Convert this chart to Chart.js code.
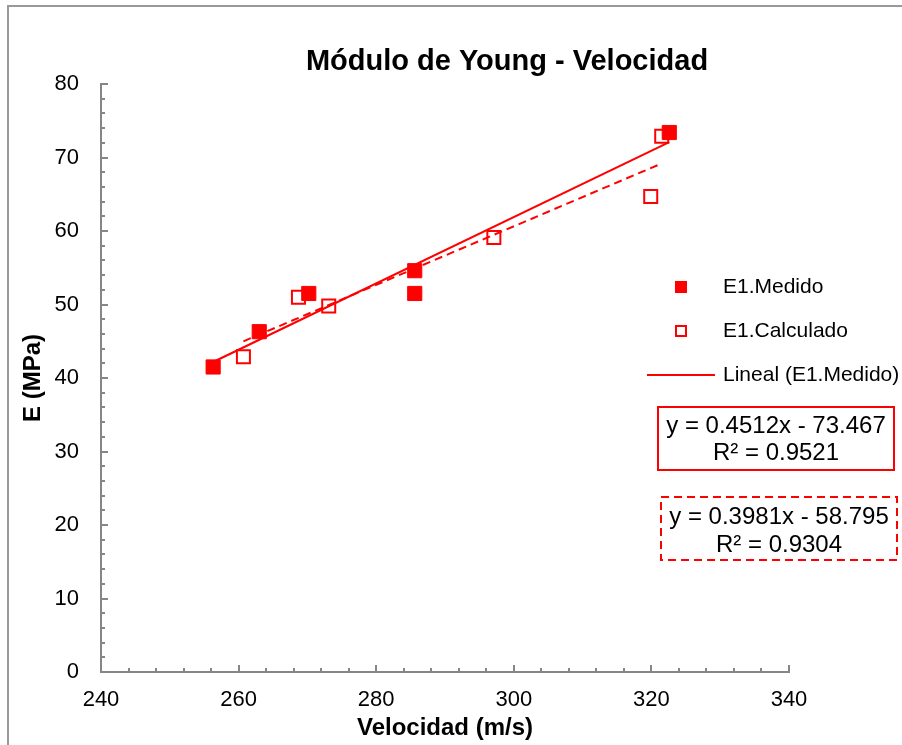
<!DOCTYPE html>
<html>
<head>
<meta charset="utf-8">
<script src="https://cdn.jsdelivr.net/npm/chart.js@4.4.1/dist/chart.umd.min.js"></script>
<style>
  html, body { margin: 0; padding: 0; background: #fff; }
  #wrap { width: 902px; height: 745px; position: relative; }
</style>
</head>
<body>
<div id="wrap"><canvas id="chart" width="902" height="745"></canvas></div>
<script>
// data
const velMedido = [256.3, 263.0, 270.2, 285.6, 285.6, 322.6];
const eMedido = [41.5, 46.3, 51.5, 54.6, 51.5, 73.4];
const velCalculado = [260.7, 268.7, 273.1, 297.1, 319.9, 321.5];
const eCalculado = [42.9, 51.0, 49.8, 59.1, 64.7, 72.9];

// trendline coefficients as printed on the chart
const fitMedido = { m: 0.4512, b: -73.467, r2: 0.9521 };
const fitCalculado = { m: 0.3981, b: -58.795, r2: 0.9304 };

const xTicks = [240, 260, 280, 300, 320, 340];
const yTicks = [0, 10, 20, 30, 40, 50, 60, 70, 80];
const xMinorStep = 4;
const yMinorStep = 2;

const titleText = 'Módulo de Young - Velocidad';
const xTitle = 'Velocidad (m/s)';
const yTitle = 'E (MPa)';
const legendLabels = ['E1.Medido', 'E1.Calculado', 'Lineal (E1.Medido)'];

const FONT = '"Liberation Sans", Arial, sans-serif';
const RED = '#ff0000';
const GRAY = '#868686';

const toPoints = (xs, ys) => xs.map((v, i) => ({ x: v, y: ys[i] }));
const trend = (xs, fit) => {
  const lo = Math.min(...xs), hi = Math.max(...xs);
  return [{ x: lo, y: fit.m * lo + fit.b }, { x: hi, y: fit.m * hi + fit.b }];
};
const eqText = fit => 'y = ' + fit.m + 'x ' + (fit.b < 0 ? '- ' : '+ ') + Math.abs(fit.b);
const r2Text = fit => 'R² = ' + fit.r2;

// title, border, minor ticks, legend and equation boxes
const decorations = {
  id: 'decorations',
  afterDraw(chart) {
    const { ctx, chartArea: { left, bottom }, scales: { x, y } } = chart;
    ctx.save();

    // outer chart border
    ctx.strokeStyle = '#999999';
    ctx.lineWidth = 2;
    ctx.strokeRect(8, 6, 1200, 1200);

    // title
    ctx.fillStyle = '#000';
    ctx.font = 'bold 29px ' + FONT;
    ctx.textAlign = 'center';
    ctx.textBaseline = 'middle';
    ctx.fillText(titleText, 507, 62);

    // tick marks, pointing into the plot
    ctx.strokeStyle = GRAY;
    ctx.lineWidth = 2;
    for (let v = x.min; v <= x.max; v += xMinorStep) {
      const px = Math.round(x.getPixelForValue(v));
      const len = xTicks.includes(v) ? 7 : 4;
      ctx.beginPath();
      ctx.moveTo(px, bottom);
      ctx.lineTo(px, bottom - len);
      ctx.stroke();
    }
    for (let v = y.min; v <= y.max; v += yMinorStep) {
      const py = Math.round(y.getPixelForValue(v));
      const len = yTicks.includes(v) ? 7 : 4;
      ctx.beginPath();
      ctx.moveTo(left, py);
      ctx.lineTo(left + len, py);
      ctx.stroke();
    }

    // legend
    ctx.font = '21px ' + FONT;
    ctx.textAlign = 'left';
    ctx.fillStyle = RED;
    ctx.fillRect(675, 281, 12, 12);
    ctx.strokeStyle = RED;
    ctx.lineWidth = 2;
    ctx.strokeRect(676, 326, 10, 10);
    ctx.beginPath();
    ctx.moveTo(647, 375);
    ctx.lineTo(715, 375);
    ctx.stroke();
    ctx.fillStyle = '#000';
    ctx.fillText(legendLabels[0], 723, 287);
    ctx.fillText(legendLabels[1], 723, 331);
    ctx.fillText(legendLabels[2], 723, 375);

    // equation boxes
    ctx.strokeStyle = RED;
    ctx.lineWidth = 2;
    ctx.strokeRect(658, 407, 236, 63);
    ctx.setLineDash([8, 5]);
    ctx.strokeRect(661, 497, 236, 63);
    ctx.setLineDash([]);
    ctx.font = '24px ' + FONT;
    ctx.textAlign = 'center';
    ctx.fillText(eqText(fitMedido), 776, 426);
    ctx.fillText(r2Text(fitMedido), 776, 453);
    ctx.fillText(eqText(fitCalculado), 779, 517);
    ctx.fillText(r2Text(fitCalculado), 779, 545);

    ctx.restore();
  }
};

new Chart(document.getElementById('chart'), {
  type: 'scatter',
  data: {
    datasets: [
      {
        label: legendLabels[0],
        data: toPoints(velMedido, eMedido),
        pointStyle: 'rect',
        pointRadius: 10,
        backgroundColor: RED,
        borderColor: RED,
        borderWidth: 1
      },
      {
        label: legendLabels[1],
        data: toPoints(velCalculado, eCalculado),
        pointStyle: 'rect',
        pointRadius: 9.2,
        backgroundColor: 'transparent',
        borderColor: RED,
        borderWidth: 2
      },
      {
        label: legendLabels[2],
        type: 'line',
        data: trend(velMedido, fitMedido),
        borderColor: RED,
        borderWidth: 2,
        pointRadius: 0,
        fill: false
      },
      {
        label: 'Lineal (E1.Calculado)',
        type: 'line',
        data: trend(velCalculado, fitCalculado),
        borderColor: RED,
        borderWidth: 2,
        borderDash: [8, 5],
        pointRadius: 0,
        fill: false
      }
    ]
  },
  options: {
    responsive: false,
    animation: false,
    devicePixelRatio: 1,
    layout: { padding: { top: 84, right: 113, left: 0, bottom: 0 } },
    plugins: {
      legend: { display: false },
      title: { display: false },
      tooltip: { enabled: false }
    },
    scales: {
      x: {
        type: 'linear',
        min: 240,
        max: 340,
        afterFit: s => { s.height = 73; },
        afterBuildTicks: s => { s.ticks = xTicks.map(v => ({ value: v })); },
        grid: { display: false },
        border: { display: true, color: GRAY, width: 2 },
        ticks: {
          color: '#000',
          font: { family: FONT, size: 22 },
          padding: 7,
          maxRotation: 0
        },
        title: {
          display: true,
          text: xTitle,
          color: '#000',
          font: { family: FONT, size: 24, weight: 'bold', lineHeight: 1.2 },
          padding: { top: 0, bottom: 2 }
        }
      },
      y: {
        type: 'linear',
        min: 0,
        max: 80,
        afterFit: s => { s.width = 101; },
        afterBuildTicks: s => { s.ticks = yTicks.map(v => ({ value: v })); },
        grid: { display: false },
        border: { display: true, color: GRAY, width: 2 },
        ticks: {
          color: '#000',
          font: { family: FONT, size: 22 },
          padding: 14
        },
        title: {
          display: true,
          text: yTitle,
          color: '#000',
          font: { family: FONT, size: 24, weight: 'bold', lineHeight: 1.2 },
          padding: { top: 19, bottom: 0 }
        }
      }
    }
  },
  plugins: [decorations]
});
</script>
</body>
</html>
